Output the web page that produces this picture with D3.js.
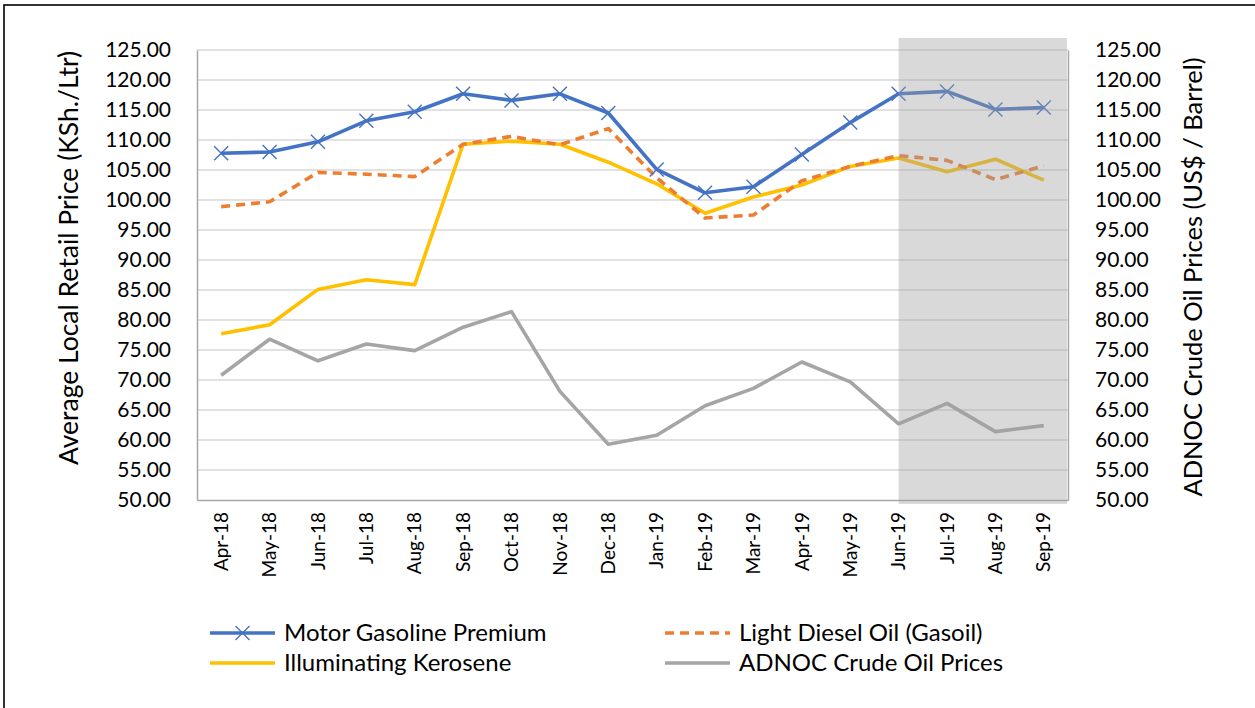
<!DOCTYPE html>
<html>
<head>
<meta charset="utf-8">
<script src="https://cdn.jsdelivr.net/npm/d3@7"></script>
<style>
  html, body { margin: 0; padding: 0; background: #fff; }
  svg { display: block; font-family: Lato, "Liberation Sans", sans-serif; }
</style>
</head>
<body>
<svg id="chart" width="1255" height="708"></svg>
<script>
const months = ["Apr-18","May-18","Jun-18","Jul-18","Aug-18","Sep-18","Oct-18","Nov-18","Dec-18",
                "Jan-19","Feb-19","Mar-19","Apr-19","May-19","Jun-19","Jul-19","Aug-19","Sep-19"];
const gasoline = [107.8,108.0,109.7,113.2,114.7,117.7,116.6,117.7,114.5,105.1,101.2,102.2,107.6,112.9,117.7,118.1,115.1,115.4];
const diesel   = [98.9,99.7,104.6,104.3,103.9,109.3,110.6,109.2,111.9,103.7,97.0,97.5,103.2,105.6,107.4,106.6,103.4,105.7];
const kerosene = [77.7,79.2,85.1,86.7,85.9,109.3,109.8,109.3,106.3,102.7,97.8,100.5,102.5,105.6,107.0,104.7,106.8,103.3];
const adnoc    = [70.8,76.8,73.2,76.0,74.9,78.8,81.4,68.1,59.3,60.8,65.7,68.6,73.0,69.7,62.7,66.1,61.4,62.4];
const yTicks = [50,55,60,65,70,75,80,85,90,95,100,105,110,115,120,125];
const highlightStart = "Jun-19";
const leftTitle = "Average Local Retail Price (KSh./Ltr)";
const rightTitle = "ADNOC Crude Oil Prices (US$ / Barrel)";

const svg = d3.select("#chart");
const plot = {left: 197, right: 1068, top: 50, bottom: 500};

// outer border
svg.append("rect").attr("x", 4).attr("y", 5).attr("width", 1262).attr("height", 712)
  .attr("fill", "none").attr("stroke", "#000").attr("stroke-width", 1.6);

const x = d3.scaleBand().domain(months).range([plot.left, plot.right]).paddingInner(0).paddingOuter(0);
const xc = d => x(d) + x.bandwidth() / 2;
const yL = d3.scaleLinear().domain([50, 125]).range([plot.bottom, plot.top]);
const yR = d3.scaleLinear().domain([50, 125]).range([plot.bottom, plot.top]);

// gridlines
svg.append("g").selectAll("line").data(yTicks.filter(t => t > 50)).join("line")
  .attr("x1", plot.left).attr("x2", plot.right)
  .attr("y1", d => yL(d)).attr("y2", d => yL(d))
  .attr("stroke", "#d9d9d9").attr("stroke-width", 1.3);

// axes
const axL = svg.append("g").attr("transform", `translate(${plot.left},0)`)
  .call(d3.axisLeft(yL).tickValues(yTicks).tickFormat(d3.format(".2f")).tickSize(0).tickPadding(26));
const axR = svg.append("g").attr("transform", `translate(${plot.right},0)`)
  .call(d3.axisRight(yR).tickValues(yTicks).tickFormat(d3.format(".2f")).tickSize(0).tickPadding(27));
const axB = svg.append("g").attr("transform", `translate(0,${plot.bottom})`)
  .call(d3.axisBottom(x).tickSize(0).tickPadding(0));
[axL, axR, axB].forEach(a => {
  a.select(".domain").attr("stroke", "#a6a6a6").attr("stroke-width", 1.5);
  a.selectAll("text").attr("fill", "#000").style("font-family", "Lato, sans-serif");
});
axL.selectAll("text").style("font-size", "21px");
axR.selectAll("text").style("font-size", "21px");
axB.selectAll("text").style("font-size", "19px")
  .attr("transform", "rotate(-90)")
  .attr("text-anchor", "end")
  .attr("x", -12).attr("y", 0).attr("dy", "0.35em");

// line generators
const lineL = arr => d3.line().x((d, i) => xc(months[i])).y(d => yL(d))(arr);
const lineR = arr => d3.line().x((d, i) => xc(months[i])).y(d => yR(d))(arr);

const series = [
  {name: "ADNOC Crude Oil Prices", data: adnoc, color: "#a5a5a5", dash: null, right: true},
  {name: "Illuminating Kerosene", data: kerosene, color: "#ffc000", dash: null},
  {name: "Light Diesel Oil (Gasoil)", data: diesel, color: "#ed7d31", dash: "9,6"},
  {name: "Motor Gasoline Premium", data: gasoline, color: "#4472c4", dash: null, marker: true}
];

series.forEach(s => {
  svg.append("path").attr("d", s.right ? lineR(s.data) : lineL(s.data))
    .attr("fill", "none").attr("stroke", s.color).attr("stroke-width", 3.6)
    .attr("stroke-linejoin", "round")
    .attr("stroke-dasharray", s.dash);
  if (s.marker) {
    const m = 7;
    svg.append("g").selectAll("path").data(s.data).join("path")
      .attr("d", (d, i) => {
        const cx = xc(months[i]), cy = yL(d);
        return `M${cx-m},${cy-m}L${cx+m},${cy+m}M${cx-m},${cy+m}L${cx+m},${cy-m}`;
      })
      .attr("stroke", s.color).attr("stroke-width", 1.4).attr("fill", "none");
  }
});

// highlight shade (semi-transparent overlay)
const hx = xc(highlightStart);
svg.append("rect").attr("x", hx).attr("y", plot.top - 12)
  .attr("width", plot.right - 1 - hx).attr("height", plot.bottom - plot.top + 16)
  .attr("fill", "rgb(160,160,160)").attr("fill-opacity", 0.4);

// axis titles
svg.append("text").attr("transform", `translate(78,258) rotate(-90)`)
  .attr("text-anchor", "middle").style("font-size", "26.5px").text(leftTitle);
svg.append("text").attr("transform", `translate(1202,277) rotate(-90)`)
  .attr("text-anchor", "middle").style("font-size", "25.5px").text(rightTitle);

// legend
const legendItems = [
  {s: series[3], x: 210, y: 633},
  {s: series[2], x: 665, y: 633},
  {s: series[1], x: 210, y: 663},
  {s: series[0], x: 665, y: 663}
];
const lg = svg.append("g");
legendItems.forEach(it => {
  lg.append("line").attr("x1", it.x).attr("x2", it.x + 65).attr("y1", it.y).attr("y2", it.y)
    .attr("stroke", it.s.color).attr("stroke-width", 3.6).attr("stroke-dasharray", it.s.dash);
  if (it.s.marker) {
    const cx = it.x + 32.5, m = 7;
    lg.append("path").attr("d", `M${cx-m},${it.y-m}L${cx+m},${it.y+m}M${cx-m},${it.y+m}L${cx+m},${it.y-m}`)
      .attr("stroke", it.s.color).attr("stroke-width", 1.4);
  }
  lg.append("text").attr("x", it.x + 74).attr("y", it.y).attr("dy", "0.35em")
    .style("font-size", "24px").text(it.s.name);
});
</script>
</body>
</html>
